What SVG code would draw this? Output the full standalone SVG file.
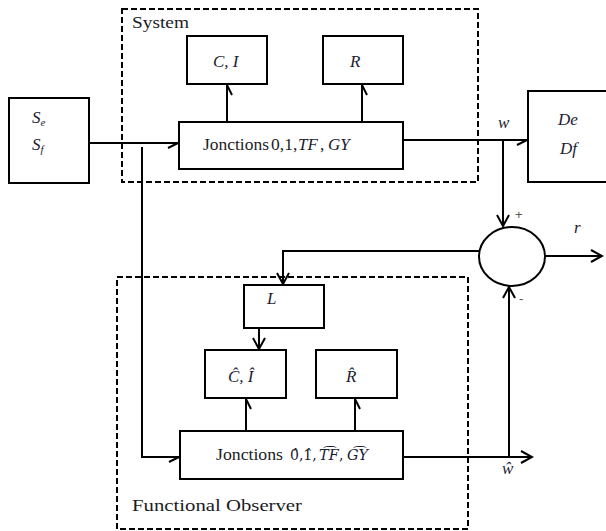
<svg xmlns="http://www.w3.org/2000/svg" width="606" height="531" viewBox="0 0 606 531">
<style>
.box{fill:#fff;stroke:#000;stroke-width:2}
.dash{fill:none;stroke:#000;stroke-width:2;stroke-dasharray:6 3}
.ln{fill:none;stroke:#000;stroke-width:2}
.t{font-family:"Liberation Serif","DejaVu Serif",serif;font-size:17.5px;fill:#1c1c24}
.m{font-family:"Liberation Serif","DejaVu Serif",serif;font-style:italic;font-size:17px;fill:#1c1c30}
.d{font-family:"DejaVu Serif",serif;font-size:14px;fill:#1c1c30}
.di{font-family:"DejaVu Serif",serif;font-style:italic;font-size:14.5px;fill:#1c1c30}
.s{font-family:"Liberation Sans",Arial,sans-serif;font-size:13px;fill:#555}
</style>
<defs>
<marker id="half" markerUnits="userSpaceOnUse" markerWidth="14" markerHeight="14" viewBox="-12 -7 14 14" refX="0" refY="0" orient="auto">
<path d="M0,0 L-10,5" fill="none" stroke="#000" stroke-width="2"/>
</marker>
<marker id="v" markerUnits="userSpaceOnUse" markerWidth="16" markerHeight="16" viewBox="-14 -8 16 16" refX="0" refY="0" orient="auto">
<path d="M-11,-6 L0,0 L-11,6" fill="none" stroke="#000" stroke-width="2"/>
</marker>
</defs>

<g id="system-boundary">
<rect class="dash" x="122" y="9" width="356" height="173"/>
<text class="t" x="132" y="28" textLength="57" lengthAdjust="spacingAndGlyphs">System</text>
</g>
<g id="observer-boundary">
<rect class="dash" x="117" y="277" width="351" height="252"/>
<text class="t" x="132" y="511" textLength="170" lengthAdjust="spacingAndGlyphs">Functional Observer</text>
</g>

<g id="connectors">
<path class="ln" d="M89,143 H178" marker-end="url(#half)"/>
<path class="ln" d="M142,147 V457 H179" marker-end="url(#half)"/>
<path class="ln" d="M227,121 V85" marker-end="url(#half)"/>
<path class="ln" d="M362,121 V85" marker-end="url(#half)"/>
<path class="ln" d="M403,140 H527" marker-end="url(#half)"/>
<path class="ln" d="M503,140 V226" marker-end="url(#v)"/>
<path class="ln" d="M509,457 V287" marker-end="url(#v)"/>
<path class="ln" d="M545,256 H602" marker-end="url(#v)"/>
<path class="ln" d="M479,251 H283 V284" marker-end="url(#v)"/>
<path class="ln" d="M259,328 V349" marker-end="url(#v)"/>
<path class="ln" d="M246,430 V399" marker-end="url(#half)"/>
<path class="ln" d="M355,430 V399" marker-end="url(#half)"/>
<path class="ln" d="M403,457 H532" marker-end="url(#v)"/>
</g>

<g id="source">
<rect class="box" x="9" y="98" width="80" height="85"/>
<text class="m" x="32" y="123" font-size="18">S<tspan font-size="11" dy="3">e</tspan></text>
<text class="m" x="32" y="150" font-size="18">S<tspan font-size="11" dy="3">f</tspan></text>
</g>

<g id="ci">
<rect class="box" x="187" y="36" width="80" height="48"/>
<text class="m" x="213" y="67">C, I</text>
</g>
<g id="r">
<rect class="box" x="323" y="36" width="80" height="48"/>
<text class="m" x="350" y="67">R</text>
</g>
<g id="junctions">
<rect class="box" x="179" y="122" width="224" height="47"/>
<text class="t" y="150"><tspan x="203" textLength="66" lengthAdjust="spacingAndGlyphs">Jonctions</tspan><tspan x="271">0,1,</tspan><tspan class="m" x="298" font-size="17.5">TF</tspan><tspan x="320">,</tspan><tspan class="m" x="328" font-size="17.5">GY</tspan></text>
</g>

<g id="detector">
<rect class="box" x="528" y="91" width="82" height="91"/>
<text class="m" x="558" y="125" font-size="18">De</text>
<text class="m" x="560" y="154" font-size="18">Df</text>
</g>
<text class="m" x="498" y="128">w</text>

<g id="comparator">
<ellipse class="box" cx="512" cy="256.5" rx="33" ry="29.5"/>
<text class="s" x="515" y="219">+</text>
<text class="s" x="519" y="303">-</text>
</g>
<text class="m" x="574" y="233">r</text>

<g id="l">
<rect class="box" x="244" y="285" width="80" height="43"/>
<text class="m" x="267" y="304">L</text>
</g>
<g id="ci-hat">
<rect class="box" x="205" y="350" width="81" height="48"/>
<text class="m" x="228" y="382">Ĉ, Î</text>
</g>
<g id="r-hat">
<rect class="box" x="316" y="350" width="81" height="48"/>
<text class="m" x="346" y="382">R̂</text>
</g>
<g id="junctions-hat">
<rect class="box" x="180" y="431" width="223" height="48"/>
<text class="t" y="460"><tspan x="216" textLength="67" lengthAdjust="spacingAndGlyphs">Jonctions</tspan><tspan class="d" x="290">0̂,1̂,</tspan><tspan class="di" x="319">T͡F</tspan><tspan class="d" x="339">,</tspan><tspan class="di" x="347">G͡Y</tspan></text>
</g>
<text class="m" x="502" y="474">ŵ</text>
</svg>
